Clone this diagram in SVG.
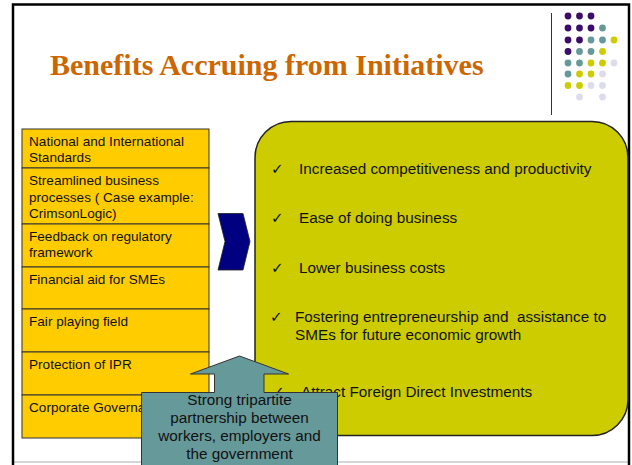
<svg xmlns="http://www.w3.org/2000/svg" width="632" height="465" viewBox="0 0 632 465">
<style>
.title{font-family:"Liberation Serif","Times New Roman",serif;font-weight:bold;font-size:30px;fill:#CC6600}
.lt{font-family:"Liberation Sans",Arial,sans-serif;font-size:13.6px;fill:#111}
.bt{font-family:"Liberation Sans",Arial,sans-serif;font-size:15.3px;fill:#111;white-space:pre}
.ck{font-family:"DejaVu Sans",sans-serif;font-size:15px;fill:#111}
.ct{font-family:"Liberation Sans",Arial,sans-serif;font-size:15.3px;fill:#111;text-anchor:middle}
.row{fill:#FFCC00;stroke:#333;stroke-width:1}
.p{fill:#3D0C6B}.t{fill:#669999}.y{fill:#CCCC00}.l{fill:#DCDCEC}
</style>
<rect x="0" y="0" width="632" height="465" fill="#fff"/>
<g id="frame">
<line x1="13" y1="462" x2="629" y2="462" stroke="#c8c8c8" stroke-width="1.5"/>
<path d="M13,465 L13,4.5 L629,4.5 L629,465" fill="none" stroke="#000" stroke-width="2.5"/>
</g>
<g id="title"><text class="title" x="50" y="75">Benefits Accruing from Initiatives</text></g>
<g id="decor">
<line x1="551.5" y1="13" x2="551.5" y2="115" stroke="#333" stroke-width="1"/>
<g>
<circle class="p" cx="568" cy="16" r="3.4"/><circle class="p" cx="579.5" cy="16" r="3.4"/><circle class="p" cx="591" cy="16" r="3.4"/>
<circle class="p" cx="568" cy="28" r="3.4"/><circle class="p" cx="579.5" cy="28" r="3.4"/><circle class="p" cx="591" cy="28" r="3.4"/><circle class="t" cx="602.5" cy="28" r="3.4"/>
<circle class="p" cx="568" cy="40" r="3.4"/><circle class="p" cx="579.5" cy="40" r="3.4"/><circle class="t" cx="591" cy="40" r="3.4"/><circle class="t" cx="602.5" cy="40" r="3.4"/><circle class="y" cx="614" cy="40" r="3.4"/>
<circle class="p" cx="568" cy="51.5" r="3.4"/><circle class="t" cx="579.5" cy="51.5" r="3.4"/><circle class="t" cx="591" cy="51.5" r="3.4"/><circle class="y" cx="602.5" cy="51.5" r="3.4"/>
<circle class="t" cx="568" cy="63" r="3.4"/><circle class="t" cx="579.5" cy="63" r="3.4"/><circle class="y" cx="591" cy="63" r="3.4"/><circle class="y" cx="602.5" cy="63" r="3.4"/><circle class="l" cx="614" cy="63" r="3.4"/>
<circle class="t" cx="568" cy="74" r="3.4"/><circle class="y" cx="579.5" cy="74" r="3.4"/><circle class="y" cx="591" cy="74" r="3.4"/><circle class="l" cx="602.5" cy="74" r="3.4"/>
<circle class="y" cx="568" cy="85.5" r="3.4"/><circle class="y" cx="579.5" cy="85.5" r="3.4"/><circle class="l" cx="591" cy="85.5" r="3.4"/><circle class="l" cx="602.5" cy="85.5" r="3.4"/>
<circle class="l" cx="579.5" cy="97" r="3.4"/><circle class="l" cx="602.5" cy="97" r="3.4"/>
</g>
</g>
<g id="initiatives">
<rect class="row" x="22" y="129" width="187" height="39"/>
<rect class="row" x="22" y="168" width="187" height="56"/>
<rect class="row" x="22" y="224" width="187" height="43"/>
<rect class="row" x="22" y="267" width="187" height="42"/>
<rect class="row" x="22" y="309" width="187" height="43"/>
<rect class="row" x="22" y="352" width="187" height="43"/>
<rect class="row" x="22" y="395" width="187" height="43"/>
<text class="lt" x="29" y="146">National and International</text>
<text class="lt" x="29" y="162">Standards</text>
<text class="lt" x="29" y="185">Streamlined business</text>
<text class="lt" x="29" y="201.5">processes ( Case example:</text>
<text class="lt" x="29" y="217.5">CrimsonLogic)</text>
<text class="lt" x="29" y="241">Feedback on regulatory</text>
<text class="lt" x="29" y="257">framework</text>
<text class="lt" x="29" y="284">Financial aid for SMEs</text>
<text class="lt" x="29" y="326">Fair playing field</text>
<text class="lt" x="29" y="369">Protection of IPR</text>
<text class="lt" x="29" y="412">Corporate Governance</text>
</g>
<g id="connectors">
<path d="M218,213.5 L243,213.5 L250,241.5 L243,270 L218,270 L225,241.5 Z" fill="#000080" stroke="#222" stroke-width="0.8"/>
</g>
<g id="benefits">
<rect x="255" y="121.5" width="373" height="314" rx="36" ry="36" fill="#CCCC00" stroke="#222" stroke-width="1.5"/>
<text class="ck" x="271" y="173.5">✓</text><text class="bt" x="299" y="173.5">Increased competitiveness and productivity</text>
<text class="ck" x="271" y="222.5">✓</text><text class="bt" x="299" y="222.5">Ease of doing business</text>
<text class="ck" x="271" y="272.5">✓</text><text class="bt" x="299" y="272.5">Lower business costs</text>
<text class="ck" x="270" y="321.5">✓</text><text class="bt" x="295" y="321.5">Fostering entrepreneurship and  assistance to</text>
<text class="bt" x="295" y="340">SMEs for future economic growth</text>
<text class="ck" x="272" y="396.5">✓</text><text class="bt" x="301" y="396.5">Attract Foreign Direct Investments</text>
</g>
<g id="partnership">
<path d="M141.5,392.5 L214.5,392.5 L214.5,374 L190.5,374 L239.5,356 L288.5,374 L264,374 L264,392.5 L337.5,392.5 L337.5,470 L141.5,470 Z" fill="#669999" stroke="#333" stroke-width="1"/>
<text class="ct" x="239.5" y="405">Strong tripartite</text>
<text class="ct" x="239.5" y="423">partnership between</text>
<text class="ct" x="239.5" y="441">workers, employers and</text>
<text class="ct" x="239.5" y="458.5">the government</text>
</g>
</svg>
